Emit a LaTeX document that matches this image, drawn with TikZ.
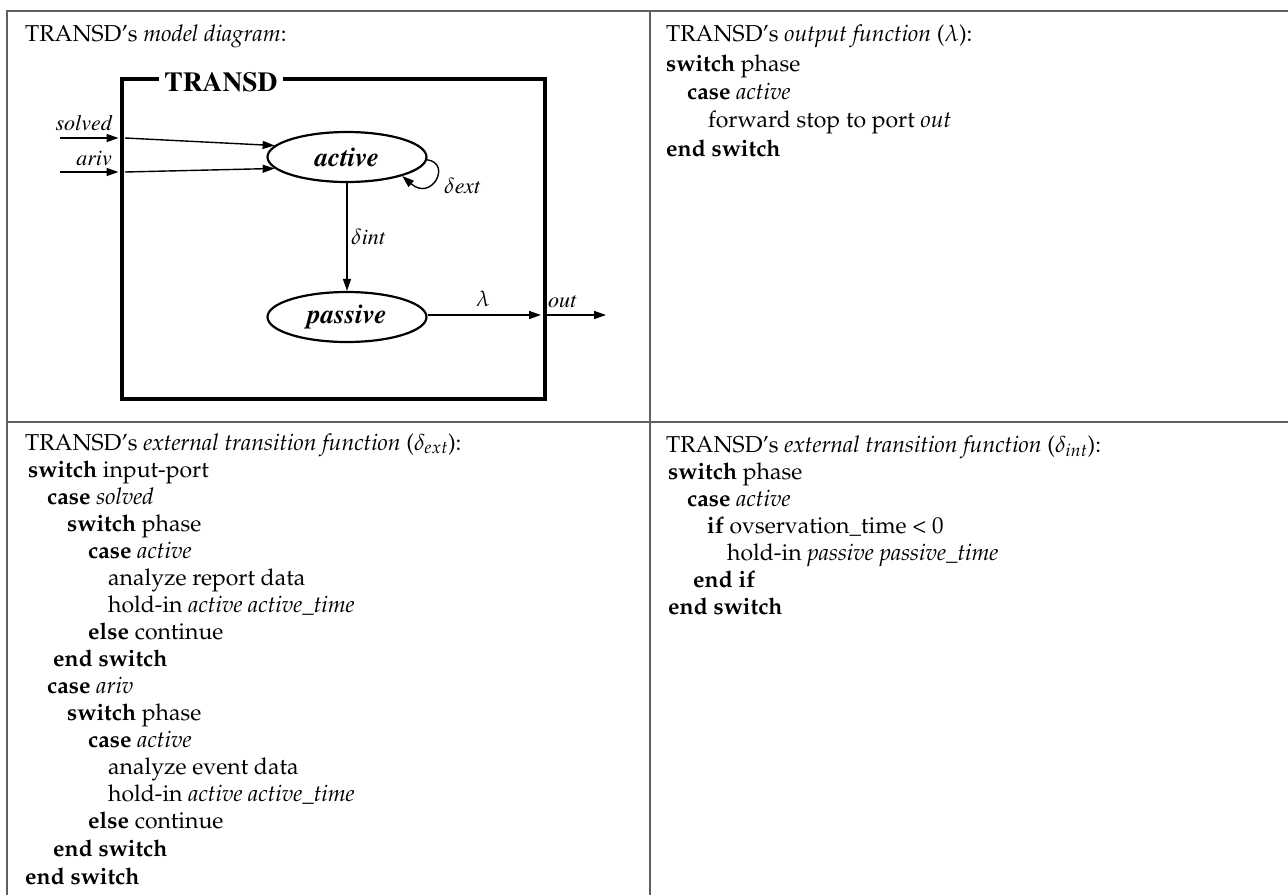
\documentclass[tikz,border=0pt]{standalone}
\usepackage[T1]{fontenc}
\usepackage{mathpazo}
\usetikzlibrary{arrows.meta,shapes.geometric}

\definecolor{rulegray}{RGB}{95,95,95}
% Times for the state diagram, Palatino for the pseudo-code
\newcommand\tmsfont{\fontfamily{ptm}\selectfont}
\newcommand\codesize{\fontsize{23}{27.6}\selectfont}

\begin{document}
\begin{tikzpicture}[x=1pt,y=-1pt,
  rule/.style={draw=rulegray, line width=2pt},
  code/.style={anchor=base west, inner sep=0pt, font=\codesize},
  statebox/.style={draw, line width=3.5pt, anchor=north west, inner sep=0pt},
  st/.style={ellipse, draw, line width=2.2pt, minimum width=159pt, minimum height=50pt,
             inner sep=0pt, font=\tmsfont\fontsize{27}{30}\selectfont\bfseries\itshape},
  arr/.style={-{Triangle[length=12pt,width=8pt]}, line width=1.4pt},
  lbl/.style={inner sep=0pt, font=\tmsfont\fontsize{22}{26}\selectfont}
]
\useasboundingbox (0,0) rectangle (1288,895);

% table rules
\coordinate (tl) at (7,11);
\coordinate (tr) at (1288,11);
\coordinate (bl) at (7,895);
\coordinate (mt) at (650,11);
\coordinate (mb) at (650,895);
\coordinate (ml) at (7,421.5);
\coordinate (mr) at (1288,421.5);
\draw[rule] (bl) -- (tl) -- (tr);
\draw[rule] (mt) -- (mb);
\draw[rule] (ml) -- (mr);

% ---------- model diagram ----------
\node[code] (t1) at (25,41) {TRANSD's \textit{model diagram}:};

\node[statebox, minimum width=423pt, minimum height=320pt] (box) at (120,77) {};
\node[fill=white, inner xsep=5pt, inner ysep=1pt,
      font=\tmsfont\fontsize{27.5}{30}\selectfont\bfseries] (boxlbl) at (221,82.5) {TRANSD};

\node[st] (act) at (347,157) {active};
\node[st] (pas) at (347,317) {passive};

% input ports
\coordinate (solIn) at (60,138);
\coordinate (solEdge) at (118.5,138);
\coordinate (solStart) at (125,138);
\coordinate (arivIn) at (60,172);
\coordinate (arivEdge) at (118.5,172);
\coordinate (arivStart) at (125,172);
\node[lbl, anchor=base east, font=\tmsfont\fontsize{22}{26}\selectfont\itshape] (solLbl) at (112,130) {solved};
\node[lbl, anchor=base east, font=\tmsfont\fontsize{22}{26}\selectfont\itshape] (arivLbl) at (112,165) {ariv};
\draw[arr] (solIn) -- (solEdge);
\draw[arr] (arivIn) -- (arivEdge);
\draw[arr] (solStart) -- (act.171);
\draw[arr] (arivStart) -- (act.189);

% external transition self-loop
\draw[arr] (act.358) .. controls (452,163) and (432,202) .. (act.341);
\node[lbl, anchor=west] (dext) at (444,186) {$\delta$\textit{ext}};

% internal transition
\draw[arr] (act.south) -- (pas.north);
\node[lbl, anchor=west] (dint) at (351,237) {$\delta$\textit{int}};

% output port
\coordinate (outEdge) at (541,315);
\coordinate (outStart) at (545,315);
\coordinate (outEnd) at (606,315);
\draw[arr] (pas.east |- outEdge) -- (outEdge);
\draw[arr] (outStart) -- (outEnd);
\node[lbl, anchor=base] (lam) at (483,306) {$\lambda$};
\node[lbl, anchor=base west, font=\tmsfont\fontsize{22}{26}\selectfont\itshape] (outLbl) at (548,307) {out};

% ---------- output function ----------
\node[code] (o1) at (666,41.7) {TRANSD's \textit{output function} ($\lambda$):};
\node[code] (o2) at (666,71) {\textbf{switch} phase};
\node[code] (o3) at (687,99) {\textbf{case} \textit{active}};
\node[code] (o4) at (708,127) {forward stop to port \textit{out}};
\node[code] (o5) at (666,156) {\textbf{end switch}};

% ---------- external transition function ----------
\node[code] (e1) at (25,450) {TRANSD's \textit{external transition function} ($\delta_{ext}$):};
\node[code] (e2) at (28,477) {\textbf{switch} input-port};
\node[code] (e3) at (47,504) {\textbf{case} \textit{solved}};
\node[code] (e4) at (67,531) {\textbf{switch} phase};
\node[code] (e5) at (88,558) {\textbf{case} \textit{active}};
\node[code] (e6) at (108,585) {analyze report data};
\node[code] (e7) at (108,612) {hold-in \textit{active active\_time}};
\node[code] (e8) at (88,639) {\textbf{else} continue};
\node[code] (e9) at (53,666) {\textbf{end switch}};
\node[code] (e10) at (47,693) {\textbf{case} \textit{ariv}};
\node[code] (e11) at (67,720) {\textbf{switch} phase};
\node[code] (e12) at (88,747) {\textbf{case} \textit{active}};
\node[code] (e13) at (108,774) {analyze event data};
\node[code] (e14) at (108,801) {hold-in \textit{active active\_time}};
\node[code] (e15) at (88,828) {\textbf{else} continue};
\node[code] (e16) at (53,856) {\textbf{end switch}};
\node[code] (e17) at (25,884) {\textbf{end switch}};

% ---------- internal transition function ----------
\node[code] (i1) at (666,452) {TRANSD's \textit{external transition function} ($\delta_{int}$):};
\node[code] (i2) at (668,479) {\textbf{switch} phase};
\node[code] (i3) at (687,506) {\textbf{case} \textit{active}};
\node[code] (i4) at (707,533) {\textbf{if} ovservation\_time \textless{} 0};
\node[code] (i5) at (727,560) {hold-in \textit{passive passive\_time}};
\node[code] (i6) at (693,587) {\textbf{end if}};
\node[code] (i7) at (668,614) {\textbf{end switch}};
\end{tikzpicture}
\end{document}
